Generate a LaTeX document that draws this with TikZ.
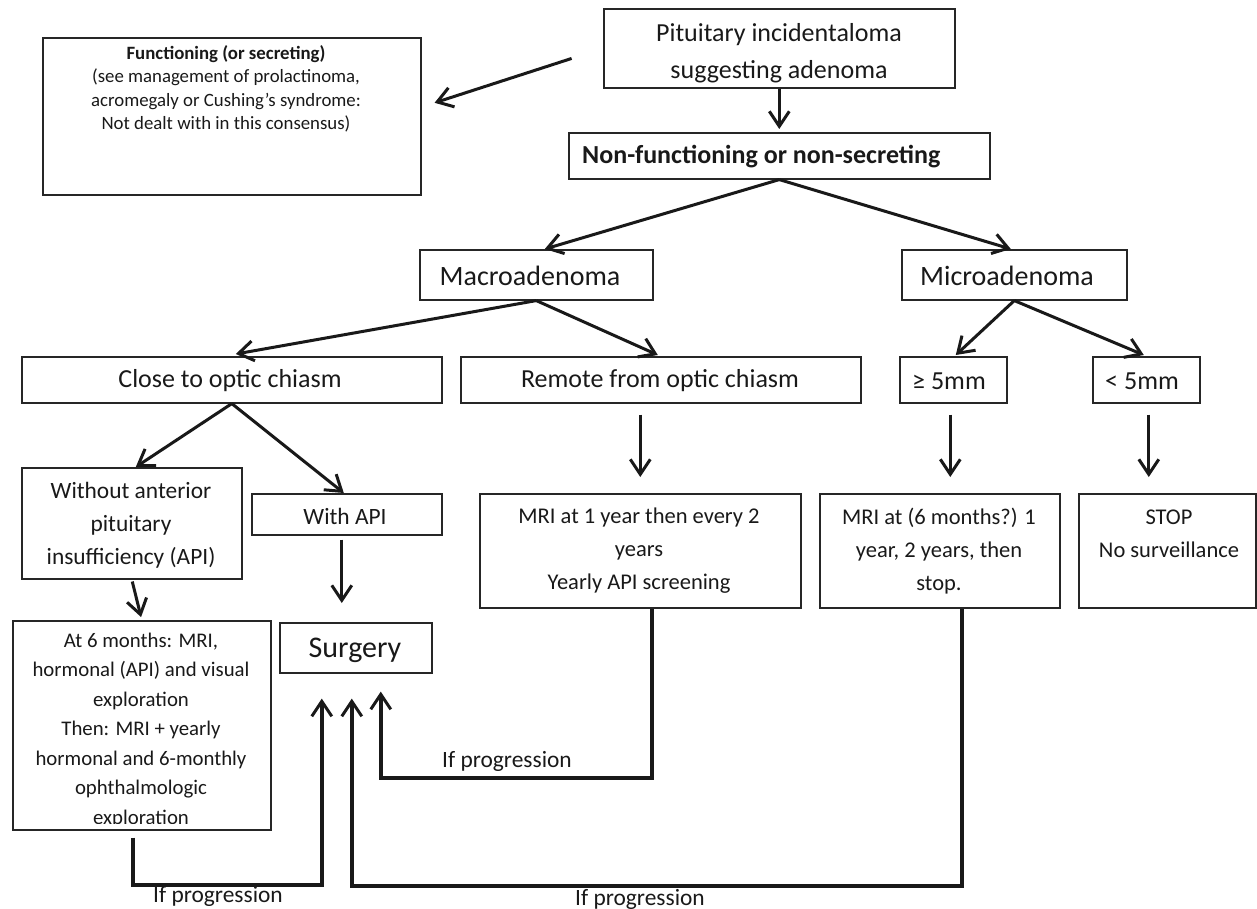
\documentclass[tikz,border=0pt]{standalone}
\usepackage{fontspec}
\setmainfont{Carlito}
\usetikzlibrary{arrows.meta}
\begin{document}
\begin{tikzpicture}[x=1pt,y=-1pt,
  box/.style={draw=black!85, line width=1.6pt, inner sep=0pt, anchor=north west},
  txt/.style={inner sep=0pt, align=center, text=black!90},
  arr/.style={draw=black!90, line width=3pt, -{Straight Barb[length=15pt,width=20pt]}},
  fb/.style={draw=black!90, line width=3.5pt, -{Straight Barb[length=15pt,width=20pt,line width=3pt]}},
  lbl/.style={inner sep=0pt, text=black!90, font=\fontsize{23.4}{28}\selectfont, anchor=base}
]
\useasboundingbox (0,0) rectangle (1257,909);

% boxes
\node[box, minimum width=378pt, minimum height=157pt] (func) at (42,37) {};
\node[box, minimum width=351pt, minimum height=79pt] (pit) at (603,8) {};
\node[box, minimum width=421pt, minimum height=46pt] (nonfunc) at (568,132) {};
\node[box, minimum width=233pt, minimum height=50pt] (macro) at (419,249) {};
\node[box, minimum width=225pt, minimum height=50pt] (micro) at (901,249) {};
\node[box, minimum width=420pt, minimum height=46pt] (close) at (21,356) {};
\node[box, minimum width=400pt, minimum height=46pt] (remote) at (460,356) {};
\node[box, minimum width=107pt, minimum height=46pt] (ge5) at (899,356) {};
\node[box, minimum width=107pt, minimum height=46pt] (lt5) at (1092,356) {};
\node[box, minimum width=220pt, minimum height=111pt] (without) at (21,467) {};
\node[box, minimum width=190pt, minimum height=41pt] (withapi) at (251,493) {};
\node[box, minimum width=321pt, minimum height=114pt] (mri1) at (479,493) {};
\node[box, minimum width=240pt, minimum height=114pt] (mri2) at (819,493) {};
\node[box, minimum width=177pt, minimum height=114pt] (stop) at (1078,493) {};
\node[box, minimum width=258pt, minimum height=209pt] (at6) at (12,620) {};
\node[box, minimum width=152pt, minimum height=50pt] (surgery) at (279,622) {};

% texts
\node[txt, font=\fontsize{18.8}{23.5}\selectfont] (functxt) at (226,89)
  {\textbf{Functioning (or secreting)}\\(see management of prolactinoma,\\acromegaly or Cushing’s syndrome:\\ Not dealt with in this consensus)};
\node[txt, font=\fontsize{26}{37}\selectfont] (pittxt) at (779,53)
  {Pituitary incidentaloma\\suggesting adenoma};
\node[txt, font=\bfseries\fontsize{26}{30}\selectfont, anchor=west] (nonfunctxt) at (582,157)
  {Non-functioning or non-secreting};
\node[txt, font=\fontsize{28}{32}\selectfont] (macrotxt) at (530,276) {Macroadenoma};
\node[txt, font=\fontsize{28}{32}\selectfont] (microtxt) at (1007,276) {Microadenoma};
\node[txt, font=\fontsize{26}{30}\selectfont] (closetxt) at (230,381) {Close to optic chiasm};
\node[txt, font=\fontsize{26}{30}\selectfont] (remotetxt) at (660,381) {Remote from optic chiasm};
\node[txt, font=\fontsize{26}{30}\selectfont] (ge5txt) at (949,381) {≥ 5mm};
\node[txt, font=\fontsize{26}{30}\selectfont] (lt5txt) at (1142,381) {< 5mm};
\node[txt, font=\fontsize{23.4}{33}\selectfont] (withouttxt) at (131,525)
  {Without anterior\\pituitary\\insufficiency (API)};
\node[txt, font=\fontsize{23.4}{33}\selectfont] (withapitxt) at (345,516) {With API};
\node[txt, font=\fontsize{22.5}{33}\selectfont] (mri1txt) at (639,551)
  {MRI at 1 year then every 2\\years\\Yearly API screening};
\node[txt, font=\fontsize{22.5}{33}\selectfont] (mri2txt) at (939,551)
  {MRI at (6 months?) 1\\year, 2 years, then\\stop.};
\node[txt, font=\fontsize{22.5}{33}\selectfont] (stoptxt) at (1169,534)
  {STOP\\No surveillance};
\begin{scope}
  \clip (at6.north west) rectangle ([yshift=7pt]at6.south east);
  \node[txt, font=\fontsize{20.8}{29.5}\selectfont] (at6txt) at (141,730)
    {At 6 months: MRI,\\hormonal (API) and visual\\exploration\\Then: MRI + yearly\\hormonal and 6-monthly\\ophthalmologic\\exploration};
\end{scope}
\node[txt, font=\fontsize{30}{34}\selectfont] (surgerytxt) at (355,650) {Surgery};

% connectors
\draw[arr, shorten <=33pt] (pit.west) -- ([xshift=13pt,yshift=13.5pt]func.east);
\draw[arr, shorten >=3pt] (pit.south) -- (nonfunc.north);
\draw[arr] (nonfunc.south) -- ([xshift=8.5pt]macro.north);
\draw[arr] (nonfunc.south) -- ([xshift=-3.5pt]micro.north);
\draw[arr] (macro.south) -- ([xshift=4pt,yshift=2pt]close.north);
\draw[arr] (macro.south) -- ([xshift=-3pt,yshift=1pt]remote.north);
\draw[arr] (micro.south) -- ([xshift=2.5pt,yshift=1pt]ge5.north);
\draw[arr] (micro.south) -- ([xshift=-2.5pt,yshift=1pt]lt5.north);
\draw[arr] (close.south) -- ([xshift=4pt]without.north);
\draw[arr] (close.south) -- ([xshift=-3pt]withapi.north);
\draw[arr, shorten <=11pt, shorten >=16pt] (mri1.north |- remote.south) -- (mri1.north);
\coordinate (g5) at ([xshift=-3pt]ge5.south);
\draw[arr, shorten <=11pt, shorten >=16pt] (g5) -- (g5 |- mri2.north);
\coordinate (l5) at ([xshift=2.5pt]lt5.south);
\draw[arr, shorten <=11pt, shorten >=16pt] (l5) -- (l5 |- stop.north);
\draw[arr, shorten <=2pt, shorten >=3pt] (without.south) -- (at6.north);
\coordinate (wa) at ([xshift=-5pt]withapi.south);
\draw[arr, shorten <=4pt, shorten >=19pt] (wa) -- (wa |- surgery.north);

% feedback loops
\coordinate (low1) at (0,885);
\coordinate (low2) at (0,886);
\coordinate (mid3) at (0,778);
\coordinate (s1) at ([xshift=-9pt,yshift=-7pt]at6.south);
\coordinate (e1) at ([xshift=-34pt,yshift=-25pt]surgery.south);
\draw[fb] (s1) -- (s1 |- low1) -- (e1 |- low1) -- (e1);
\coordinate (s2) at ([xshift=22pt]mri2.south);
\coordinate (e2) at ([xshift=-4pt,yshift=-25pt]surgery.south);
\draw[fb] (s2) -- (s2 |- low2) -- (e2 |- low2) -- (e2);
\coordinate (s3) at ([xshift=11.5pt]mri1.south);
\coordinate (e3) at ([xshift=25pt,yshift=-18pt]surgery.south);
\draw[fb] (s3) -- (s3 |- mid3) -- (e3 |- mid3) -- (e3);

\node[lbl] (prog1) at (218,902) {If progression};
\node[lbl] (prog2) at (640,905) {If progression};
\node[lbl] (prog3) at (507,767) {If progression};
\end{tikzpicture}
\end{document}
